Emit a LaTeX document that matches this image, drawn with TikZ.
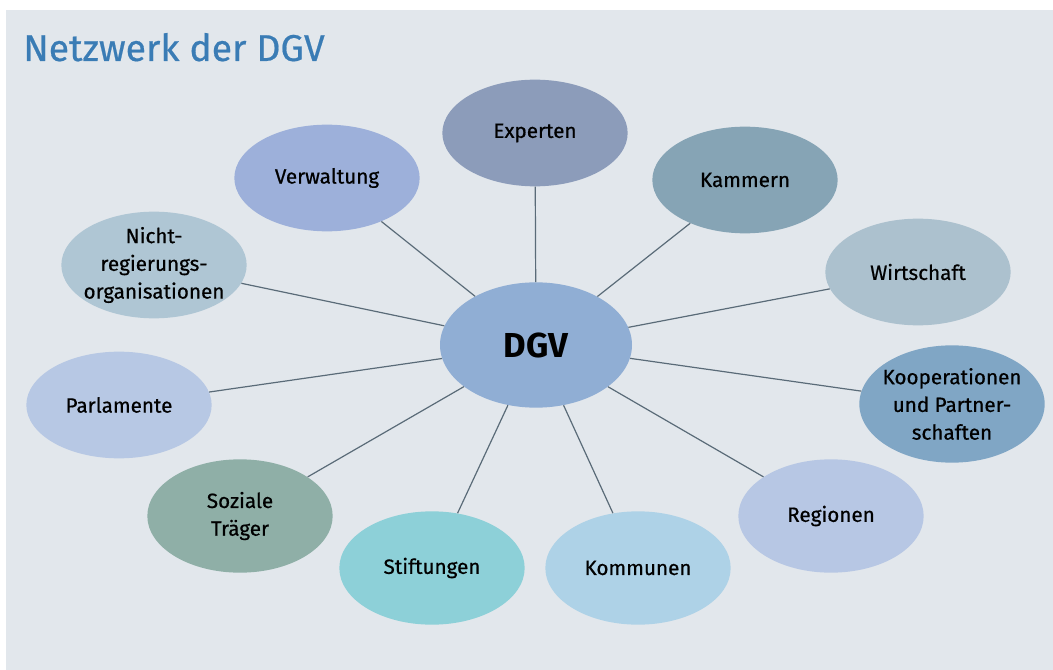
\documentclass[tikz,border=0pt]{standalone}
\usepackage{fontspec}
\setmainfont{Fira Sans}
\newfontfamily\bubfont[FakeBold=0.6]{Fira Sans}
\newfontfamily\titfont[FakeBold=0.5]{Fira Sans}
\usetikzlibrary{shapes.geometric}
\definecolor{bg}{HTML}{E2E7EC}
\definecolor{titlec}{HTML}{3A7CB5}
\definecolor{linec}{HTML}{5A6B78}
\definecolor{cExp}{HTML}{8C9CBA}
\definecolor{cVer}{HTML}{9DB0DA}
\definecolor{cKam}{HTML}{86A4B5}
\definecolor{cNgo}{HTML}{AFC6D4}
\definecolor{cWir}{HTML}{ACC1CE}
\definecolor{cDgv}{HTML}{90AED4}
\definecolor{cPar}{HTML}{B7C8E4}
\definecolor{cKoo}{HTML}{80A6C5}
\definecolor{cSoz}{HTML}{8FAFA7}
\definecolor{cReg}{HTML}{B7C7E4}
\definecolor{cSti}{HTML}{8DD0D8}
\definecolor{cKom}{HTML}{AED2E7}
\tikzset{
  bubble/.style={ellipse, inner xsep=-12pt, inner ysep=-6pt, minimum width=139pt, minimum height=80pt,
    align=center, font=\bubfont\fontsize{15.5}{20.8}\selectfont, text=black},
  link/.style={draw=linec, line width=0.9pt},
}
\begin{document}
\begin{tikzpicture}[x=0.75pt,y=-0.75pt]
\useasboundingbox (0,0) rectangle (1053,670);
\fill[white] (0,0) rectangle (1053,670);
\fill[bg] (6,10) rectangle (1053,670);
\node[anchor=base west, text=titlec, font=\titfont\fontsize{28}{32}\selectfont, inner sep=0pt] (title) at (23,61) {Netzwerk der DGV};

\node[bubble, fill=cDgv, minimum width=144pt, minimum height=94pt, font=\fontsize{26}{30}\selectfont\bfseries] (dgv) at (536,345) {DGV};
\node[bubble, fill=cExp] (exp) at (535,133) {Experten};
\node[bubble, fill=cVer] (ver) at (327,178) {Verwaltung};
\node[bubble, fill=cKam] (kam) at (745,180) {Kammern};
\node[bubble, fill=cNgo] (ngo) at (154,265) {Nicht-\\regierungs-\\organisationen};
\node[bubble, fill=cWir] (wir) at (918,272) {Wirtschaft};
\node[bubble, fill=cPar] (par) at (119,405) {Parlamente};
\node[bubble, fill=cKoo, minimum height=88pt] (koo) at (952,404) {Kooperationen\\und Partner-\\schaften};
\node[bubble, fill=cSoz, minimum height=85pt] (soz) at (240,516) {Soziale\\Träger};
\node[bubble, fill=cReg, minimum height=85pt] (reg) at (831,516) {Regionen};
\node[bubble, fill=cSti, minimum height=85pt] (sti) at (432,568) {Stiftungen};
\node[bubble, fill=cKom, minimum height=85pt] (kom) at (638,568) {Kommunen};

\foreach \n in {exp,ver,kam,ngo,wir,par,koo,soz,reg,sti,kom}{
  \draw[link] (dgv) -- (\n);
}
\end{tikzpicture}
\end{document}
